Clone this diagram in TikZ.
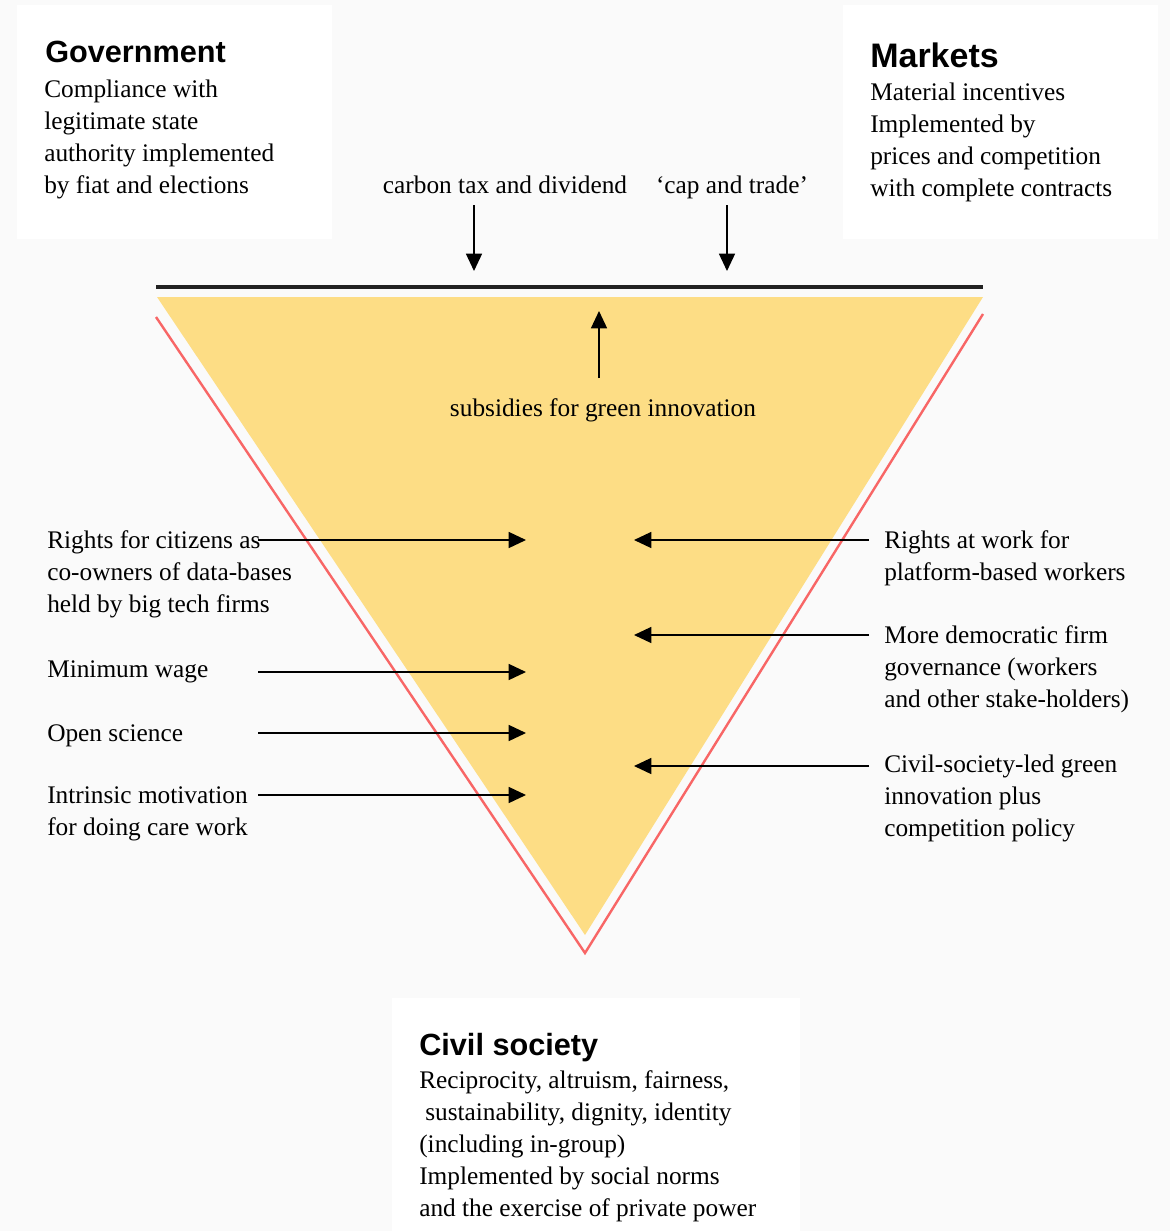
\documentclass[tikz,border=0pt]{standalone}
\usepackage{fontspec}
\setmainfont{Liberation Serif}
\newfontfamily\headfont{Liberation Sans}
\usetikzlibrary{arrows.meta}
\definecolor{bg}{HTML}{FAFAFA}
\definecolor{wedge}{HTML}{FDDD85}
\definecolor{rim}{HTML}{F86666}
\definecolor{bar}{HTML}{222222}
\begin{document}
\begin{tikzpicture}[x=0.75pt,y=-0.75pt,
  body/.style={font=\fontsize{19}{24}\selectfont, inner sep=0pt},
  para/.style={body, anchor=north west, yshift=16.8pt, align=left},
  single/.style={body, anchor=base west},
  head/.style={font=\headfont\bfseries\fontsize{23}{28}\selectfont, inner sep=0pt, anchor=base west},
  arr/.style={-{Triangle[length=13pt,width=12pt]}, line width=1.1pt}]
% page background
\fill[bg] (0,0) rectangle (1170,1231);
\useasboundingbox (0,0) rectangle (1170,1231);

% white panels
\fill[white] (17,5) rectangle (332,239);
\fill[white] (843,5) rectangle (1158,239);
\fill[white] (392,998) rectangle (800,1231);

% inverted triangle with its outline and top bar
\fill[wedge] (157,297) -- (983,297) -- (585,935) -- cycle;
\draw[rim, line width=1.8pt] (156,317) -- (585,953) -- (983,314);
\draw[bar, line width=2.4pt] (156,287) -- (983,287);

% panel texts
\node[head] (govh) at (45,63) {Government};
\node[para] (govb) at (44,97) {\strut Compliance with\\legitimate state\\authority implemented\\by fiat and elections};
\node[head, font=\headfont\bfseries\fontsize{25.5}{30}\selectfont] (mkth) at (870,68) {Markets};
\node[para] (mktb) at (870,100) {\strut Material incentives\\Implemented by\\prices and competition\\with complete contracts};
\node[head] (civh) at (419,1055) {Civil society};
\node[para] (civb) at (419,1088) {\strut Reciprocity, altruism, fairness,\\\hspace*{4.5pt}sustainability, dignity, identity\\(including in-group)\\Implemented by social norms\\and the exercise of private power};

% policies from above and below the bar
\node[body, anchor=base] (carbon) at (505,193) {carbon tax and dividend};
\node[body, anchor=base] (cap) at (732,193) {‘cap and trade’};
\node[body, anchor=base] (subs) at (603,416) {subsidies for green innovation};
\coordinate (carbonS) at (474,205); \coordinate (carbonE) at (474,271);
\coordinate (capS) at (727,205);    \coordinate (capE) at (727,271);
\coordinate (subsS) at (599,378);   \coordinate (subsE) at (599,311);
\draw[arr] (carbonS) -- (carbonE);
\draw[arr] (capS) -- (capE);
\draw[arr] (subsS) -- (subsE);

% left-hand policies
\node[para] (citizens) at (47,548) {\strut Rights for citizens as\\co-owners of data-bases\\held by big tech firms};
\node[single] (wage) at (47,677) {Minimum wage};
\node[single] (science) at (47,741) {Open science};
\node[para] (care) at (47,803) {\strut Intrinsic motivation\\for doing care work};
\coordinate (citizensS) at (258,540); \coordinate (citizensE) at (526,540);
\coordinate (wageS) at (258,672);     \coordinate (wageE) at (526,672);
\coordinate (scienceS) at (258,733);  \coordinate (scienceE) at (526,733);
\coordinate (careS) at (258,795);     \coordinate (careE) at (526,795);
\draw[arr] (citizensS) -- (citizensE);
\draw[arr] (wageS) -- (wageE);
\draw[arr] (scienceS) -- (scienceE);
\draw[arr] (careS) -- (careE);

% right-hand policies
\node[para] (platform) at (884,548) {\strut Rights at work for\\platform-based workers};
\node[para] (firm) at (884,643) {\strut More democratic firm\\governance (workers\\and other stake-holders)};
\node[para] (green) at (884,772) {\strut Civil-society-led green\\innovation plus\\competition policy};
\coordinate (platformS) at (869,540); \coordinate (platformE) at (634,540);
\coordinate (firmS) at (869,635);     \coordinate (firmE) at (634,635);
\coordinate (greenS) at (869,766);    \coordinate (greenE) at (634,766);
\draw[arr] (platformS) -- (platformE);
\draw[arr] (firmS) -- (firmE);
\draw[arr] (greenS) -- (greenE);
\end{tikzpicture}
\end{document}
